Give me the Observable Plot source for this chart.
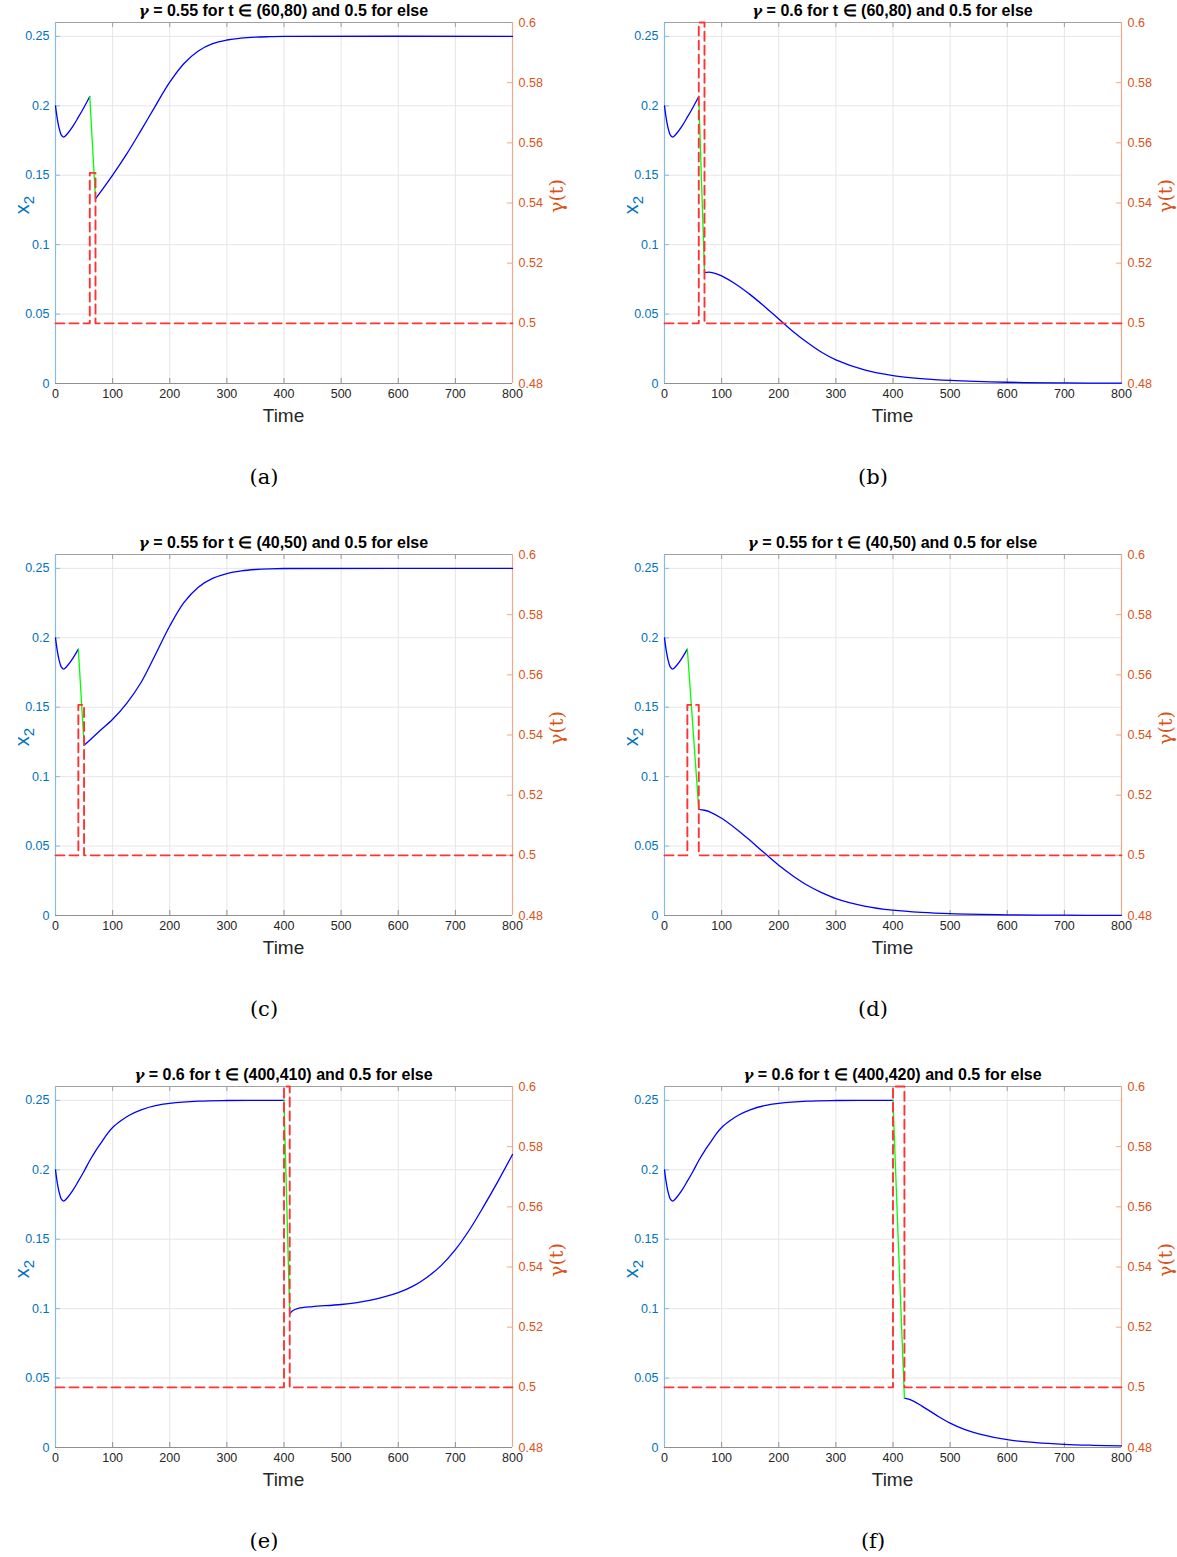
<!DOCTYPE html>
<html>
<head>
<meta charset="utf-8">
<script src="https://cdn.jsdelivr.net/npm/d3@7"></script>
<script src="https://cdn.jsdelivr.net/npm/@observablehq/plot@0.6"></script>
<style>
  body { margin: 0; background: #fff; }
  #root { position: relative; width: 1177px; height: 1557px; font-family: "Liberation Sans", Arial, sans-serif; overflow: hidden; }
  .panel { position: absolute; width: 600px; height: 532px; }
  .panel svg { position: absolute; left: 0; top: 0; }
  .title { position: absolute; top: 1px; left: 55px; width: 457px; text-align: center; font-weight: bold; font-size: 16px; line-height: 20px; white-space: nowrap; color: #000; }
  .title .g { font-family: "DejaVu Serif", serif; font-style: italic; font-weight: bold; font-size: 15px; }
  .lab { position: absolute; white-space: nowrap; transform: translate(-50%, -50%); line-height: 1; }
  .rot { transform: translate(-50%, -50%) rotate(-90deg); }
  .cap { position: absolute; font-family: "DejaVu Serif", "Liberation Serif", serif; font-size: 21px; transform: translate(-50%, -50%); line-height: 1; }
</style>
</head>
<body>
<div id="root"></div>
<script>
// ---------- shared ticks ----------
const xTicks = [0, 100, 200, 300, 400, 500, 600, 700, 800];
const x2Ticks = [0, 0.05, 0.1, 0.15, 0.2, 0.25];
const gammaTicks = [0.48, 0.5, 0.52, 0.54, 0.56, 0.58, 0.6];

const titles = [
  "γ = 0.55 for t ∈ (60,80) and 0.5 for else",
  "γ = 0.6 for t ∈ (60,80) and 0.5 for else",
  "γ = 0.55 for t ∈ (40,50) and 0.5 for else",
  "γ = 0.55 for t ∈ (40,50) and 0.5 for else",
  "γ = 0.6 for t ∈ (400,410) and 0.5 for else",
  "γ = 0.6 for t ∈ (400,420) and 0.5 for else"
];
const captions = ["(a)", "(b)", "(c)", "(d)", "(e)", "(f)"];

// ---------- panel (a) ----------
const aBlue1 = [[0,0.2],[3,0.191],[6,0.1845],[10,0.179],[14,0.1775],[20,0.1795],[30,0.185],[40,0.1918],[50,0.199],[60,0.2067]];
const aGreen = [[60,0.2067],[70,0.133]];
const aBlue2 = [[70,0.133],[80,0.1385],[100,0.150],[125,0.1655],[150,0.1825],[175,0.2],[200,0.217],[225,0.2305],[250,0.2395],[275,0.2448],[300,0.2474],[325,0.2488],[350,0.2495],[375,0.2498],[400,0.25],[800,0.25]];
const aGamma = [[0,0.5],[60,0.5],[60,0.55],[70,0.55],[70,0.5],[800,0.5]];

// ---------- panel (b) ----------
const bBlue1 = [[0,0.2],[3,0.191],[6,0.1845],[10,0.179],[14,0.1775],[20,0.1795],[30,0.185],[40,0.1918],[50,0.199],[60,0.2067]];
const bGreen = [[60,0.2067],[70,0.0798]];
const bBlue2 = [[70,0.0798],[78,0.0802],[90,0.0792],[100,0.0775],[125,0.0715],[150,0.064],[175,0.0555],[200,0.0465],[225,0.0375],[250,0.0295],[275,0.0225],[300,0.017],[350,0.0098],[400,0.0057],[450,0.0035],[500,0.0022],[600,0.0009],[700,0.0004],[800,0.0002]];
const bGamma = [[0,0.5],[60,0.5],[60,0.6],[70,0.6],[70,0.5],[800,0.5]];

// ---------- panel (c) ----------
const cBlue1 = [[0,0.2],[3,0.191],[6,0.1845],[10,0.179],[14,0.1775],[20,0.1795],[30,0.185],[40,0.1918]];
const cGreen = [[40,0.1918],[50,0.1226]];
const cBlue2 = [[50,0.1226],[60,0.1262],[75,0.132],[100,0.1413],[125,0.153],[150,0.168],[175,0.188],[200,0.2085],[225,0.2255],[250,0.2365],[275,0.2428],[300,0.2463],[325,0.2482],[350,0.2492],[375,0.2497],[400,0.2499],[800,0.25]];
const cGamma = [[0,0.5],[40,0.5],[40,0.55],[50,0.55],[50,0.5],[800,0.5]];

// ---------- panel (d) ----------
const dBlue1 = [[0,0.2],[3,0.191],[6,0.1845],[10,0.179],[14,0.1775],[20,0.1795],[30,0.185],[40,0.1918]];
const dGreen = [[40,0.1918],[60,0.0764]];
const dBlue2 = [[60,0.0764],[70,0.0758],[80,0.0745],[100,0.07],[125,0.0625],[150,0.054],[175,0.045],[200,0.0362],[225,0.0285],[250,0.0218],[275,0.0165],[300,0.0122],[350,0.0068],[400,0.0038],[450,0.0022],[500,0.0013],[600,0.0005],[700,0.0002],[800,0.0001]];
const dGamma = [[0,0.5],[40,0.5],[40,0.55],[60,0.55],[60,0.5],[800,0.5]];

// ---------- panel (e) ----------
const eBlue1 = [[0,0.2],[3,0.191],[6,0.1845],[10,0.179],[14,0.1775],[20,0.1795],[30,0.185],[40,0.1918],[50,0.199],[60,0.2067],[70,0.2135],[80,0.2195],[90,0.2255],[100,0.2305],[115,0.2355],[130,0.2395],[150,0.2432],[175,0.2462],[200,0.2478],[250,0.2494],[300,0.2499],[350,0.25],[400,0.25]];
const eGreen = [[400,0.25],[410,0.0962]];
const eBlue2 = [[410,0.0962],[415,0.0985],[425,0.1002],[450,0.1015],[500,0.103],[550,0.106],[600,0.1115],[625,0.116],[650,0.1225],[675,0.131],[700,0.1425],[725,0.157],[750,0.174],[775,0.192],[800,0.211]];
const eGamma = [[0,0.5],[400,0.5],[400,0.6],[410,0.6],[410,0.5],[800,0.5]];

// ---------- panel (f) ----------
const fBlue1 = [[0,0.2],[3,0.191],[6,0.1845],[10,0.179],[14,0.1775],[20,0.1795],[30,0.185],[40,0.1918],[50,0.199],[60,0.2067],[70,0.2135],[80,0.2195],[90,0.2255],[100,0.2305],[115,0.2355],[130,0.2395],[150,0.2432],[175,0.2462],[200,0.2478],[250,0.2494],[300,0.2499],[350,0.25],[400,0.25]];
const fGreen = [[400,0.25],[410,0.14],[420,0.0356]];
const fBlue2 = [[420,0.0356],[430,0.0345],[450,0.030],[475,0.0235],[500,0.0175],[525,0.013],[550,0.0098],[600,0.0056],[650,0.0035],[700,0.0023],[750,0.0016],[800,0.0011]];
const fGamma = [[0,0.5],[400,0.5],[400,0.6],[420,0.6],[420,0.5],[800,0.5]];

const panels = [
  {blue1: aBlue1, green: aGreen, blue2: aBlue2, gamma: aGamma},
  {blue1: bBlue1, green: bGreen, blue2: bBlue2, gamma: bGamma},
  {blue1: cBlue1, green: cGreen, blue2: cBlue2, gamma: cGamma},
  {blue1: dBlue1, green: dGreen, blue2: dBlue2, gamma: dGamma},
  {blue1: eBlue1, green: eGreen, blue2: eBlue2, gamma: eGamma},
  {blue1: fBlue1, green: fGreen, blue2: fBlue2, gamma: fGamma}
];

// map right-axis (gamma) values onto the left-axis (x2) scale
const X2MAX = 0.26, GMIN = 0.48, GMAX = 0.6;
const toLeft = g => (g - GMIN) / (GMAX - GMIN) * X2MAX;
const fromLeft = v => GMIN + v / X2MAX * (GMAX - GMIN);

const LEFT_C = "#0072BD", RIGHT_C = "#D95319";

function makePlot(cfg) {
  const W = 600, H = 430, ml = 55, mr = 88, mt = 22, mb = 47;
  const fw = W - ml - mr, fh = H - mt - mb;
  const P = d => d[0], V = d => d[1];
  const fs = 12.5;
  return Plot.plot({
    width: W, height: H,
    marginLeft: ml, marginRight: mr, marginTop: mt, marginBottom: mb,
    x: {domain: [0, 800]},
    y: {domain: [0, X2MAX]},
    style: {fontFamily: "Liberation Sans, Arial, sans-serif", fontSize: "12.5px", background: "transparent", overflow: "visible"},
    marks: [
      // grid
      Plot.ruleX(xTicks.slice(1, -1), {x: d => d, stroke: "#e6e6e6"}),
      Plot.ruleY(x2Ticks.slice(1), {y: d => d, stroke: "#e6e6e6"}),
      // box / axis lines
      Plot.ruleY([X2MAX], {y: d => d, stroke: "#a0a0a0"}),
      Plot.ruleY([0], {y: d => d, stroke: "#909090"}),
      // inward ticks
      Plot.tickX(xTicks.slice(1, -1), {x: d => d, insetTop: fh - 5, stroke: "#909090"}),
      Plot.tickX(xTicks.slice(1, -1), {x: d => d, insetBottom: fh - 5, stroke: "#a0a0a0"}),
      Plot.tickY(x2Ticks.slice(1), {y: d => d, insetRight: fw - 5, stroke: "#86bce3"}),
      Plot.tickY(gammaTicks.slice(1, -1).map(toLeft), {y: d => d, insetLeft: fw - 5, stroke: "#f0a888"}),
      Plot.ruleX([0], {x: d => d, stroke: "#86bce3", strokeWidth: 1.2}),
      Plot.ruleX([800], {x: d => d, stroke: "#f0a888", strokeWidth: 1.2}),
      // tick labels
      Plot.axisX(xTicks, {anchor: "bottom", tickSize: 0, tickPadding: 6, fontSize: fs, tickFormat: d => String(d), color: "#262626", label: null}),
      Plot.axisY(x2Ticks, {anchor: "left", tickSize: 0, tickPadding: 6, fontSize: fs, tickFormat: d => String(d), color: LEFT_C, label: null}),
      Plot.axisY(gammaTicks.map(toLeft), {anchor: "right", tickSize: 0, tickPadding: 6, fontSize: fs, tickFormat: d => String(+fromLeft(d).toFixed(2)), color: RIGHT_C, label: null}),
      // series
      Plot.line(cfg.blue1, {x: P, y: V, stroke: "#0000ff", strokeWidth: 1.3, curve: "catmull-rom"}),
      Plot.line(cfg.blue2, {x: P, y: V, stroke: "#0000ff", strokeWidth: 1.3, curve: "catmull-rom"}),
      Plot.line(cfg.green, {x: P, y: V, stroke: "#00ff00", strokeWidth: 1.3, curve: "catmull-rom"}),
      Plot.line(cfg.gamma, {x: P, y: d => toLeft(d[1]), stroke: "#ff3333", strokeWidth: 1.9, strokeDasharray: "9,5"})
    ]
  });
}

const root = document.getElementById("root");
const colX = [0, 609], rowY = [0, 532, 1064];
panels.forEach((cfg, i) => {
  const div = document.createElement("div");
  div.className = "panel";
  div.style.left = colX[i % 2] + "px";
  div.style.top = rowY[Math.floor(i / 2)] + "px";
  div.appendChild(makePlot(cfg));

  const t = document.createElement("div");
  t.className = "title";
  const g = document.createElement("span");
  g.className = "g";
  g.textContent = titles[i].slice(0, 1);
  t.appendChild(g);
  t.appendChild(document.createTextNode(titles[i].slice(1)));
  div.appendChild(t);

  const xl = document.createElement("div");
  xl.className = "lab";
  xl.style.cssText = "left:283.5px;top:415px;font-size:19px;color:#262626;";
  xl.textContent = "Time";
  div.appendChild(xl);

  const yl = document.createElement("div");
  yl.className = "lab rot";
  yl.style.cssText = "left:22px;top:205px;font-size:20px;color:" + LEFT_C + ";";
  yl.innerHTML = "x<span style='font-size:15px;position:relative;top:5px'>2</span>";
  div.appendChild(yl);

  const yr = document.createElement("div");
  yr.className = "lab rot";
  yr.style.cssText = "left:556px;top:196px;font-size:19px;font-family:'DejaVu Serif',serif;color:" + RIGHT_C + ";";
  yr.textContent = "γ(t)";
  div.appendChild(yr);

  const c = document.createElement("div");
  c.className = "cap";
  c.style.left = "264px";
  c.style.top = "477px";
  c.textContent = captions[i];
  div.appendChild(c);

  root.appendChild(div);
});
</script>
</body>
</html>
